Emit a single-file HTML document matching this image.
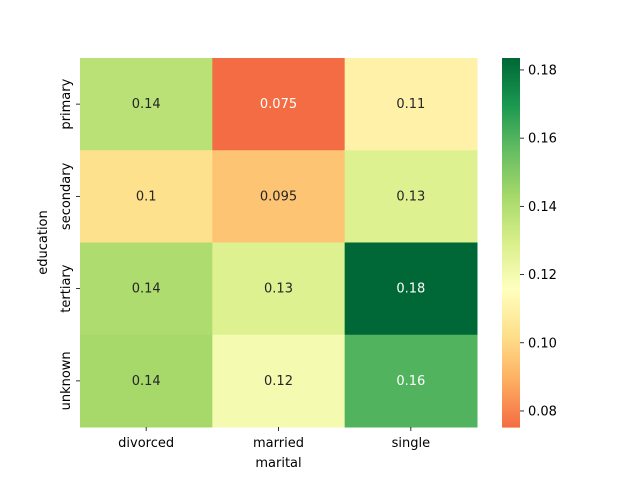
<!DOCTYPE html>
<html><head><meta charset="utf-8"><style>
body{margin:0;background:#fff;}
svg text{font-family:"DejaVu Sans","Liberation Sans",sans-serif;}
</style></head><body>
<svg id="c" width="640" height="480" viewBox="0 0 640 480"></svg>
<script>
const cols = ["divorced","married","single"];
const rows = ["primary","secondary","tertiary","unknown"];
const primaryVals = [0.138, 0.0753, 0.11];
const secondaryVals = [0.103, 0.095, 0.128];
const tertiaryVals = [0.141, 0.128, 0.1835];
const unknownVals = [0.143, 0.12, 0.16];
const cbTicks = [0.08, 0.10, 0.12, 0.14, 0.16, 0.18];
const values = [primaryVals, secondaryVals, tertiaryVals, unknownVals];

const NS="http://www.w3.org/2000/svg";
const svg=document.getElementById('c');
function mk(t,a,p){const e=document.createElementNS(NS,t);for(const k in a)e.setAttribute(k,a[k]);(p||svg).appendChild(e);return e;}
const X0=80,X1=477,Y0=58,Y1=427;
const vmin=0.0753,vmax=0.1835,center=0.116;
const vr=Math.max(vmax-center,center-vmin);
const lo=center-vr,hi=center+vr;
const stops=["#a50026","#d73027","#f46d43","#fdae61","#fee08b","#ffffbf","#d9ef8b","#a6d96a","#66bd63","#1a9850","#006837"].map(h=>[1,3,5].map(i=>parseInt(h.substr(i,2),16)));
function cmap(v){let t=(v-lo)/(hi-lo);t=Math.max(0,Math.min(1,t));
 const s=t*10,i=Math.min(9,Math.floor(s)),f=s-i;
 return stops[i].map((a,k)=>Math.round(a+(stops[i+1][k]-a)*f));}
function rgb(c){return `rgb(${c[0]},${c[1]},${c[2]})`;}
function lum(c){const l=c.map(x=>{x/=255;return x<=0.03928?x/12.92:Math.pow((x+0.055)/1.055,2.4)});return 0.2126*l[0]+0.7152*l[1]+0.0722*l[2];}
const cw=(X1-X0)/cols.length, ch=(Y1-Y0)/rows.length;
const xPos=i=>X0+i*cw, yPos=j=>Y0+j*ch;
function fmt(v){return String(parseFloat(v.toPrecision(2)));}
rows.forEach((r,j)=>cols.forEach((c,i)=>{
 const v=values[j][i],col=cmap(v);
 const rect=mk('rect',{x:xPos(i),y:yPos(j),width:cw+0.5,height:ch+0.5,fill:rgb(col)});
 
 
 const t=mk('text',{x:xPos(i)+cw/2,y:yPos(j)+ch/2+4,'text-anchor':'middle','font-size':'13',fill:lum(col)>0.408?'#262626':'#ffffff'});
 t.textContent=fmt(v);
 
 
}));
cols.forEach((c,i)=>{const x=xPos(i)+cw/2;
 mk('line',{x1:x,x2:x,y1:Y1,y2:Y1+4,stroke:'#000','stroke-width':0.8});
 const t=mk('text',{x:x,y:Y1+20,'text-anchor':'middle','font-size':'13',fill:'#000'});t.textContent=c;
 });
rows.forEach((r,j)=>{const y=yPos(j)+ch/2;
 mk('line',{x1:X0-4,x2:X0,y1:y,y2:y,stroke:'#000','stroke-width':0.8});
 const t=mk('text',{x:0,y:0,transform:`translate(${X0-10},${y}) rotate(-90)`,'text-anchor':'middle','font-size':'13',fill:'#000'});t.textContent=r;
 });
let t=mk('text',{x:(X0+X1)/2,y:467,'text-anchor':'middle','font-size':'13'});t.textContent='marital';

t=mk('text',{x:0,y:0,transform:`translate(47,${(Y0+Y1)/2}) rotate(-90)`,'text-anchor':'middle','font-size':'13'});t.textContent='education';

const CX=502,CW=18;
const g=mk('g',{});
const N=185;
for(let k=0;k<N;k++){const y=Y1-(k+1)*(Y1-Y0)/N;const v=vmin+(k+0.5)/N*(vmax-vmin);
 mk('rect',{x:CX,y:y,width:CW,height:(Y1-Y0)/N+0.6,fill:rgb(cmap(v))},g);}
const cy=v=>Y1-(v-vmin)/(vmax-vmin)*(Y1-Y0);
cbTicks.forEach(v=>{const y=cy(v);
 mk('line',{x1:CX+CW,x2:CX+CW+4,y1:y,y2:y,stroke:'#000','stroke-width':0.8});
 const tt=mk('text',{x:CX+CW+8,y:y+4.5,'font-size':'13'});tt.textContent=v.toFixed(2);
 });
</script>
</body></html>
